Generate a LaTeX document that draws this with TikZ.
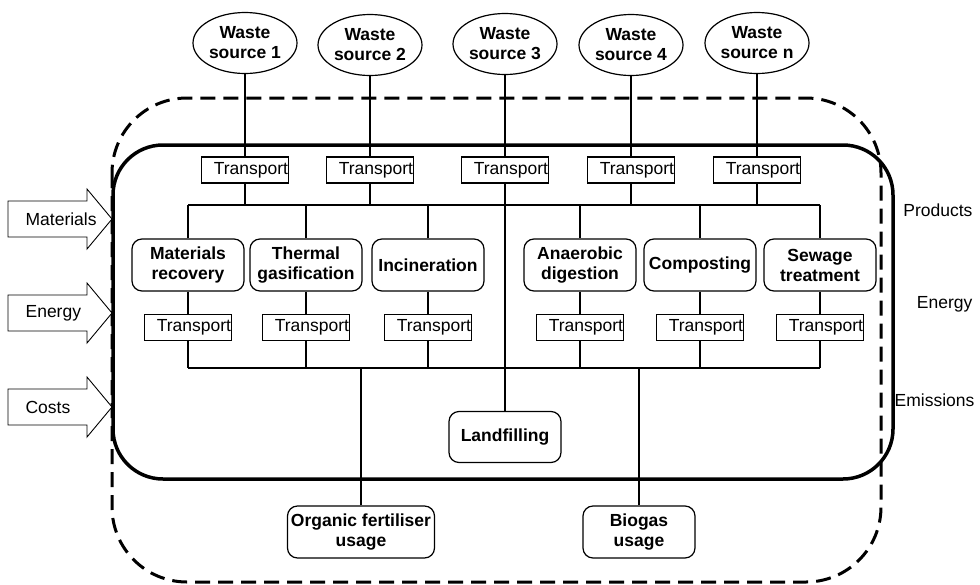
\documentclass[tikz,border=0pt]{standalone}
\usepackage{fontspec}
\setmainfont{Liberation Sans}
\usetikzlibrary{positioning,shapes.geometric}

\begin{document}
\begin{tikzpicture}[%
    x=1pt, y=-1pt,
    font=\fontsize{17.5}{20}\selectfont,
    line width=1.2pt,
    source/.style={%
        draw,
        ellipse,
        fill=white,
        inner sep=0pt,
        minimum width=104pt,
        minimum height=61pt,
        align=center,
        font=\fontsize{17.5}{20}\selectfont\bfseries
    },
    transport/.style={%
        draw,
        rectangle,
        fill=white,
        inner xsep=0.5pt,
        inner ysep=0pt,
        text width=86pt,
        align=right,
        minimum height=26pt
    },
    process/.style={%
        draw,
        rectangle,
        rounded corners=10pt,
        fill=white,
        inner sep=1pt,
        minimum width=112pt,
        minimum height=52pt,
        align=center,
        font=\fontsize{17.5}{20}\selectfont\bfseries
    },
    frame/.style={%
        line width=3.5pt,
        rounded corners=50pt
    },
    boundary/.style={%
        line width=3pt,
        dash pattern=on 15pt off 8pt,
        rounded corners=75pt
    },
    inflow/.style={%
        draw,
        line width=0.9pt,
        fill=white
    }
]

\useasboundingbox (0,0) rectangle (980,584);

% System boundaries
\draw[frame] (113,145) rectangle (893,479);
\draw[boundary] (112,98) rectangle (881,582);

% Inputs on the left
\foreach \c/\t/\n in {219/Materials/materials, 313/Energy/energy, 407/Costs/costs} {
    \draw[inflow] (8,{\c-18}) -- (87,{\c-18}) -- (87,{\c-30}) -- (112,\c)
        -- (87,{\c+30}) -- (87,{\c+18}) -- (8,{\c+18}) -- cycle;
    \node[anchor=west, inner sep=0pt] (\n) at (25,\c) {\t};
}

% Outputs on the right
\node[anchor=east, inner sep=0pt] (products) at (973,210) {Products};
\node[anchor=east, inner sep=0pt] (energyout) at (973,304) {Energy};
\node[anchor=east, inner sep=0pt] (emissions) at (975,400) {Emissions};

% Waste sources
\node[source] (src1) at (245,43) {Waste\\source 1};
\node[source] (src2) at (370,45) {Waste\\source 2};
\node[source] (src3) at (505,44) {Waste\\source 3};
\node[source] (src4) at (631,45) {Waste\\source 4};
\node[source] (srcn) at (757,43) {Waste\\source n};

% Transport from sources
\node[transport] (tr1) at (245,170) {Transport};
\node[transport] (tr2) at (370,170) {Transport};
\node[transport] (tr3) at (505,170) {Transport};
\node[transport] (tr4) at (631,170) {Transport};
\node[transport] (trn) at (757,170) {Transport};

% Treatment processes
\node[process] (matrec) at (188,265) {Materials\\recovery};
\node[process] (thermal) at (306,265) {Thermal\\gasification};
\node[process] (incin) at (428,265) {Incineration};
\node[process] (anaer) at (580,265) {Anaerobic\\digestion};
\node[process] (compost) at (700,265) {Composting};
\node[process] (sewage) at (820,265) {Sewage\\treatment};

% Transport from processes
\node[transport, below=22pt of matrec] (trm1) {Transport};
\node[transport, below=22pt of thermal] (trm2) {Transport};
\node[transport, below=22pt of incin] (trm3) {Transport};
\node[transport, below=22pt of anaer] (trm4) {Transport};
\node[transport, below=22pt of compost] (trm5) {Transport};
\node[transport, below=22pt of sewage] (trm6) {Transport};

% Final destinations
\node[process, minimum height=51pt] (landfill) at (505,437) {Landfilling};
\node[process, minimum width=147pt] (fertil) at (361,532) {Organic fertiliser\\usage};
\node[process] (biogas) at (639,532) {Biogas\\usage};

% Collecting lines
\coordinate (busL) at (188,205);
\coordinate (busR) at (820,205);
\coordinate (lbusL) at (188,368);
\coordinate (lbusR) at (820,368);
\draw (busL) -- (busR);
\draw (lbusL) -- (lbusR);

% Lines
\draw (src1) -- (tr1);
\draw (src2) -- (tr2);
\draw (src3) -- (tr3);
\draw (src4) -- (tr4);
\draw (srcn) -- (trn);

\draw (tr1) -- (tr1 |- busL);
\draw (tr2) -- (tr2 |- busL);
\draw (tr4) -- (tr4 |- busL);
\draw (trn) -- (trn |- busL);
\draw (tr3) -- (landfill);

\draw (matrec) -- (matrec |- busL);
\draw (thermal) -- (thermal |- busL);
\draw (incin) -- (incin |- busL);
\draw (anaer) -- (anaer |- busL);
\draw (compost) -- (compost |- busL);
\draw (sewage) -- (sewage |- busL);

\draw (matrec) -- (trm1);
\draw (thermal) -- (trm2);
\draw (incin) -- (trm3);
\draw (anaer) -- (trm4);
\draw (compost) -- (trm5);
\draw (sewage) -- (trm6);

\draw (trm1) -- (trm1 |- lbusL);
\draw (trm2) -- (trm2 |- lbusL);
\draw (trm3) -- (trm3 |- lbusL);
\draw (trm4) -- (trm4 |- lbusL);
\draw (trm5) -- (trm5 |- lbusL);
\draw (trm6) -- (trm6 |- lbusL);

\draw (fertil) -- (fertil |- lbusL);
\draw (biogas) -- (biogas |- lbusL);

\end{tikzpicture}
\end{document}
